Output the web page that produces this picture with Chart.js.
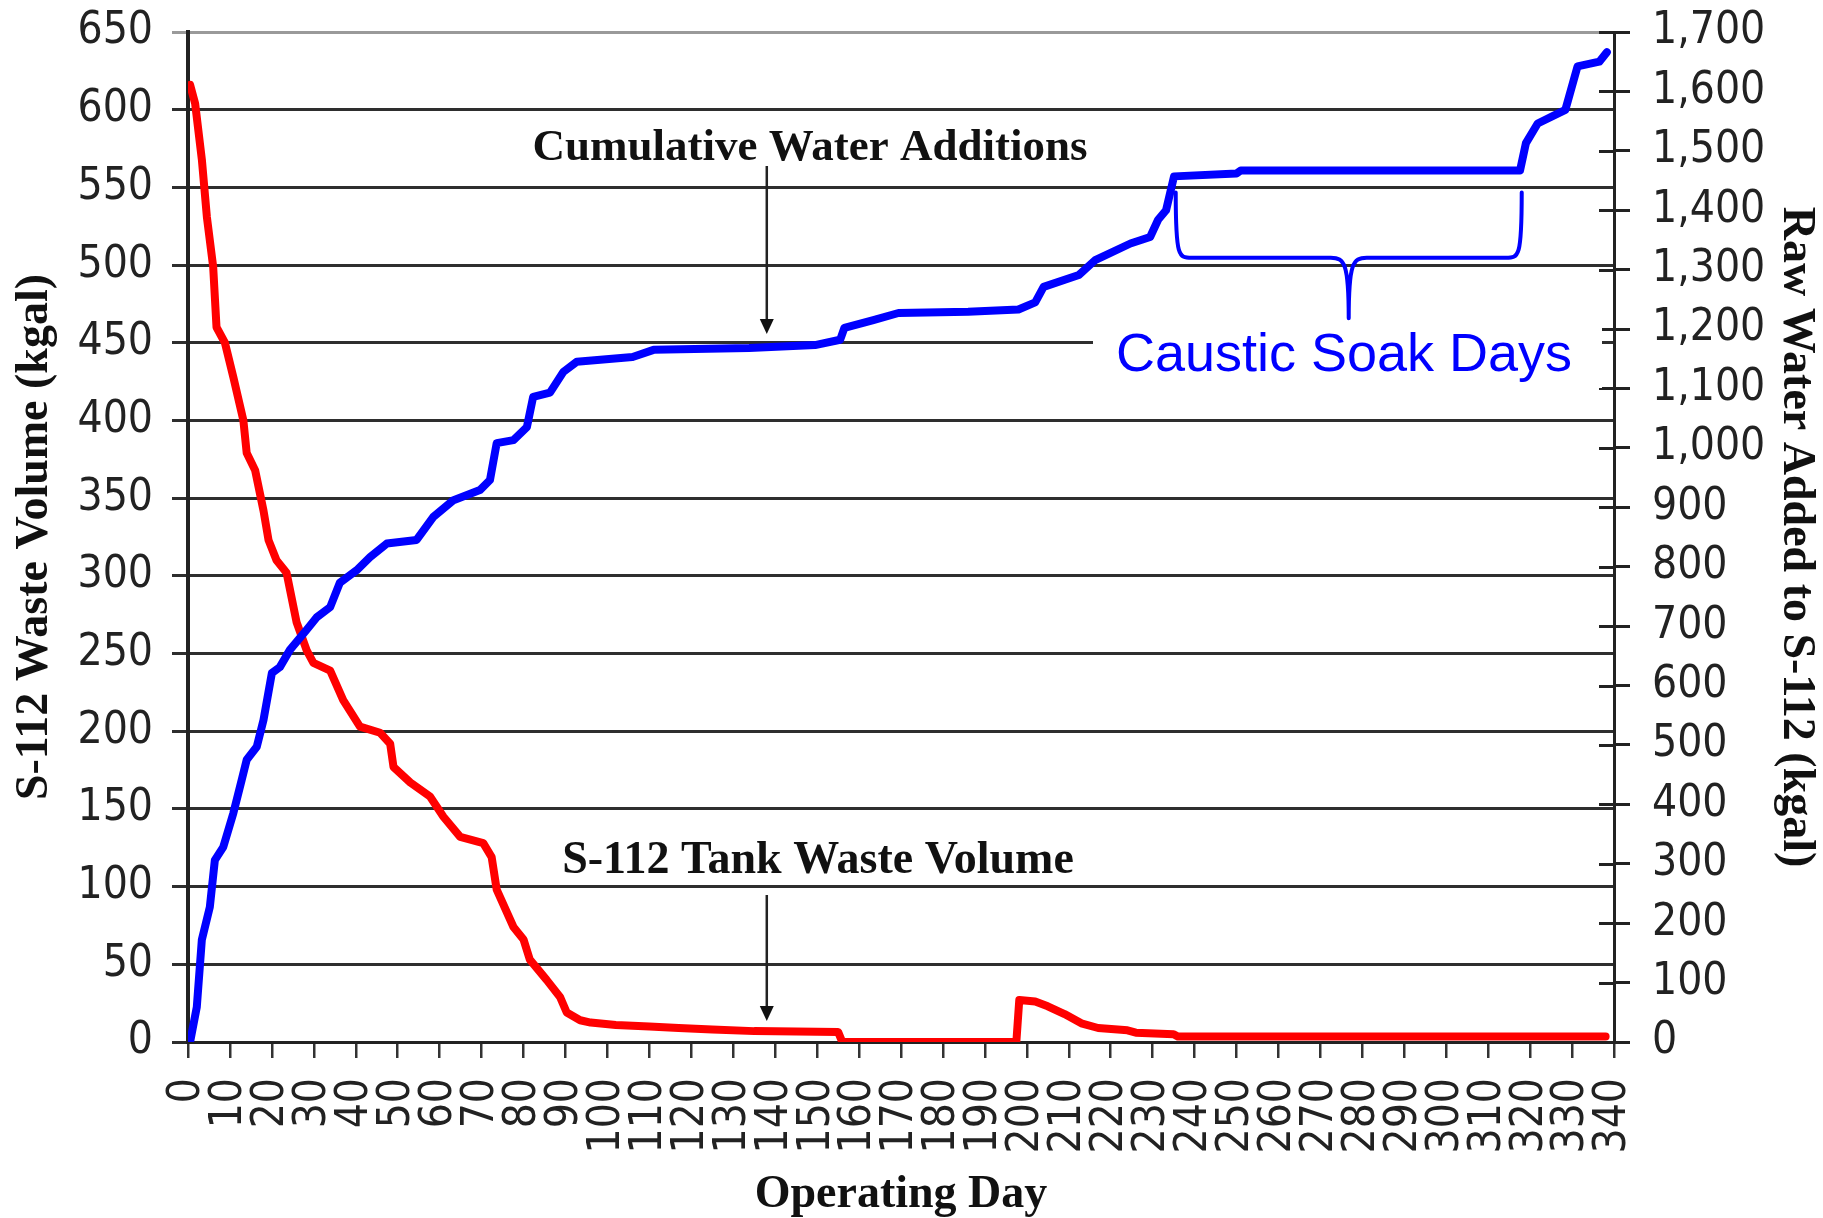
<!DOCTYPE html>
<html>
<head>
<meta charset="utf-8">
<script src="https://cdn.jsdelivr.net/npm/chart.js@4.4.1/dist/chart.umd.min.js"></script>
<style>
  html, body { margin: 0; padding: 0; background: #fff; }
  #wrap { width: 1823px; height: 1218px; position: relative; }
</style>
</head>
<body>
<div id="wrap"><canvas id="chart"></canvas></div>
<script>
// --- S-112 tank waste volume (left axis, kgal) ---
const dayWaste = [0.5, 1.7, 3.3, 4.5, 6, 6.8, 8.8, 10.8, 13.2, 14, 16, 18, 19.2, 21.1, 23.5, 25.9, 28.3, 29.9,
    33.9, 37, 41, 45.8, 48.2, 49, 53, 57.7, 60.9, 64.9, 70.4, 72.4, 73.6, 77.6, 80, 81.5, 85.5, 88.7, 90.3,
    93.5, 96, 102, 110, 117, 125, 135, 155, 156, 197.5, 198.2, 202, 205, 209, 213, 217, 224, 226, 235, 236, 338];
const wasteVol = [616, 604, 568, 531, 499, 460, 450, 428, 400, 379, 368, 342, 323, 310, 302, 270, 252, 244,
    239, 220, 203, 199, 192, 177, 167, 158, 145, 132, 128, 119, 98, 74, 66, 53, 40, 29, 19,
    14, 12.5, 11, 10, 9, 8, 7, 6.5, 0, 0, 27, 26, 23, 18, 12, 9, 7.5, 6, 5, 3.5, 3.5];

// --- cumulative raw water added (right axis, kgal) ---
const dayWater = [0.5, 2.1, 3.3, 5.2, 6.4, 8.4, 10.8, 12.8, 14, 16.4, 18, 20, 21.9, 24.3, 28.3, 30.7, 33.9,
    36.2, 40.2, 43.4, 47.4, 54.5, 58.5, 63.3, 69.6, 72, 73.6, 77.6, 80.8, 82.3, 86.3, 89.5, 92.7, 106, 111,
    133.8, 149.5, 155.5, 156.5, 163.4, 169.4, 186, 198, 202, 204, 212.4, 216.3, 224.7, 229.4, 231.3, 233.2,
    235.1, 250, 251, 317.6, 319, 321.8, 328.4, 331.3, 336.5, 338.3];
const waterAdded = [0, 59, 172, 227, 306, 328, 385, 441, 475, 497, 542, 621, 631, 660, 694, 715, 732,
    773, 794, 816, 839, 845, 884, 912, 929, 946, 1008, 1013, 1035, 1086, 1093, 1128, 1145, 1153, 1165,
    1168, 1173, 1182, 1202, 1215, 1227, 1229, 1233, 1245, 1271, 1291, 1316, 1344, 1355, 1384, 1400,
    1457, 1462, 1467, 1467, 1513, 1546, 1569, 1642, 1650, 1666];

// axis ranges / ticks
const dayRange = [0, 340, 10];
const wasteRange = [0, 650, 50];
const waterRange = [0, 1700, 100];

// annotation anchors (in data units)
const arrowDay = 138;
const soakDays = [235.5, 318];

const tickFont = { family: "'Liberation Sans Narrow', 'DejaVu Sans Condensed', 'Liberation Sans', sans-serif", size: 44 };
const serifBold = "'Liberation Serif', 'Times New Roman', serif";
const inkColor = '#222';

function toPoints(xs, ys) {
    return xs.map((x, i) => ({ x, y: ys[i] }));
}

// keep the plot area where the original has it
function fixVertical(width) {
    return s => {
        s.width = width;
        s.paddingTop = 32;
        s.paddingBottom = 0;
    };
}

function drawArrow(ctx, x, y1, y2) {
    ctx.save();
    ctx.strokeStyle = '#222';
    ctx.fillStyle = '#111';
    ctx.lineWidth = 2.5;
    ctx.beginPath();
    ctx.moveTo(x, y1);
    ctx.lineTo(x, y2 - 12);
    ctx.stroke();
    ctx.beginPath();
    ctx.moveTo(x - 7, y2 - 15);
    ctx.lineTo(x + 7, y2 - 15);
    ctx.lineTo(x, y2);
    ctx.closePath();
    ctx.fill();
    ctx.restore();
}

const annotations = {
    id: 'annotations',
    beforeDatasetsDraw(chart) {
        // inner half of the right-axis tick marks
        const { ctx } = chart;
        const s = chart.scales.y2;
        ctx.save();
        ctx.strokeStyle = '#222';
        ctx.lineWidth = 3;
        s.ticks.forEach(t => {
            const y = Math.round(s.getPixelForValue(t.value)) + 0.5;
            ctx.beginPath();
            ctx.moveTo(s.left - 15, y);
            ctx.lineTo(s.left, y);
            ctx.stroke();
        });
        ctx.restore();
    },
    afterDatasetsDraw(chart) {
        const { ctx } = chart;
        const x = chart.scales.x, y2 = chart.scales.y2;
        const ax = x.getPixelForValue(arrowDay);

        // labels with arrows
        ctx.save();
        ctx.fillStyle = '#111';
        ctx.textAlign = 'center';
        ctx.textBaseline = 'alphabetic';
        ctx.font = `bold 45px ${serifBold}`;
        ctx.fillText('Cumulative Water Additions', 810, 160);
        ctx.font = `bold 46px ${serifBold}`;
        ctx.fillText('S-112 Tank Waste Volume', 818, 873);
        ctx.restore();
        drawArrow(ctx, ax, 166, 334);
        drawArrow(ctx, ax, 895, 1021);

        // caustic soak label box (hides gridline underneath)
        const xl = x.getPixelForValue(soakDays[0]);
        const xr = x.getPixelForValue(soakDays[1]);
        const xm = (xl + xr) / 2;
        const yTop = y2.getPixelForValue(1430);
        const yMid = y2.getPixelForValue(1320);
        const yTip = y2.getPixelForValue(1218);
        ctx.save();
        ctx.fillStyle = '#fff';
        ctx.fillRect(1093, 322, 509, 66);
        ctx.fillStyle = '#0000ff';
        ctx.font = "54px 'Liberation Sans', Arial, sans-serif";
        ctx.textAlign = 'center';
        ctx.fillText('Caustic Soak Days', 1344, 371);

        // curly brace
        ctx.strokeStyle = '#0000ff';
        ctx.lineWidth = 4;
        ctx.lineCap = 'round';
        ctx.beginPath();
        ctx.moveTo(xl, yTop);
        ctx.bezierCurveTo(xl, yMid, xl + 3, yMid, xl + 16, yMid);
        ctx.lineTo(xm - 18, yMid);
        ctx.bezierCurveTo(xm - 4, yMid, xm, yMid + 6, xm, yTip);
        ctx.moveTo(xm, yTip);
        ctx.bezierCurveTo(xm, yMid + 6, xm + 4, yMid, xm + 18, yMid);
        ctx.lineTo(xr - 16, yMid);
        ctx.bezierCurveTo(xr - 3, yMid, xr, yMid, xr, yTop);
        ctx.stroke();
        ctx.restore();
    }
};

new Chart(document.getElementById('chart'), {
    type: 'line',
    data: {
        datasets: [
            {
                label: 'Cumulative Water Additions',
                data: toPoints(dayWater, waterAdded),
                yAxisID: 'y2',
                borderColor: '#0000ff',
                borderWidth: 8,
                pointRadius: 0,
                tension: 0,
                borderJoinStyle: 'round',
                borderCapStyle: 'round',
            },
            {
                label: 'S-112 Tank Waste Volume',
                data: toPoints(dayWaste, wasteVol),
                yAxisID: 'y',
                borderColor: '#ff0000',
                borderWidth: 8,
                pointRadius: 0,
                tension: 0,
                borderJoinStyle: 'round',
                borderCapStyle: 'round',
            }
        ]
    },
    options: {
        responsive: true,
        maintainAspectRatio: false,
        animation: false,
        devicePixelRatio: 1,
        layout: { padding: 0 },
        plugins: {
            legend: { display: false },
            tooltip: { enabled: false },
        },
        scales: {
            x: {
                type: 'linear',
                min: dayRange[0],
                max: dayRange[1],
                afterFit: s => { s.height = 176; },
                ticks: {
                    stepSize: dayRange[2],
                    autoSkip: false,
                    maxRotation: 90,
                    minRotation: 90,
                    padding: 20,
                    color: inkColor,
                    font: tickFont,
                },
                grid: { drawOnChartArea: false, tickLength: 16, lineWidth: 2.5, color: '#333' },
                border: { color: '#222', width: 3 },
                title: {
                    display: true,
                    text: 'Operating Day',
                    color: '#111',
                    font: { family: serifBold, size: 46, weight: 'bold', lineHeight: 1 },
                    padding: { top: 0, bottom: 0 },
                },
            },
            y: {
                position: 'left',
                min: wasteRange[0],
                max: wasteRange[1],
                afterFit: fixVertical(188),
                ticks: { stepSize: wasteRange[2], autoSkip: false, padding: 19, color: inkColor, font: tickFont },
                grid: {
                    tickLength: 16,
                    lineWidth: 3,
                    color: c => (c.tick && c.tick.value === wasteRange[1]) ? '#9a9a9a' : '#2e2e2e',
                },
                border: { color: '#222', width: 4 },
                title: {
                    display: true,
                    text: 'S-112 Waste Volume (kgal)',
                    color: '#111',
                    font: { family: serifBold, size: 46, weight: 'bold', lineHeight: 1 },
                    padding: { top: 12, bottom: 0 },
                },
            },
            y2: {
                position: 'right',
                min: waterRange[0],
                max: waterRange[1],
                afterFit: fixVertical(209),
                ticks: {
                    stepSize: waterRange[2],
                    autoSkip: false,
                    padding: 22,
                    color: inkColor,
                    font: tickFont,
                    callback: v => v.toLocaleString('en-US'),
                },
                grid: { drawOnChartArea: false, tickLength: 16, lineWidth: 3, color: '#222' },
                border: { color: '#222', width: 3 },
                title: {
                    display: true,
                    text: 'Raw Water Added to S-112 (kgal)',
                    color: '#111',
                    font: { family: serifBold, size: 46, weight: 'bold', lineHeight: 1 },
                    padding: { top: 4, bottom: 0 },
                },
            },
        },
    },
    plugins: [annotations],
});
</script>
</body>
</html>
